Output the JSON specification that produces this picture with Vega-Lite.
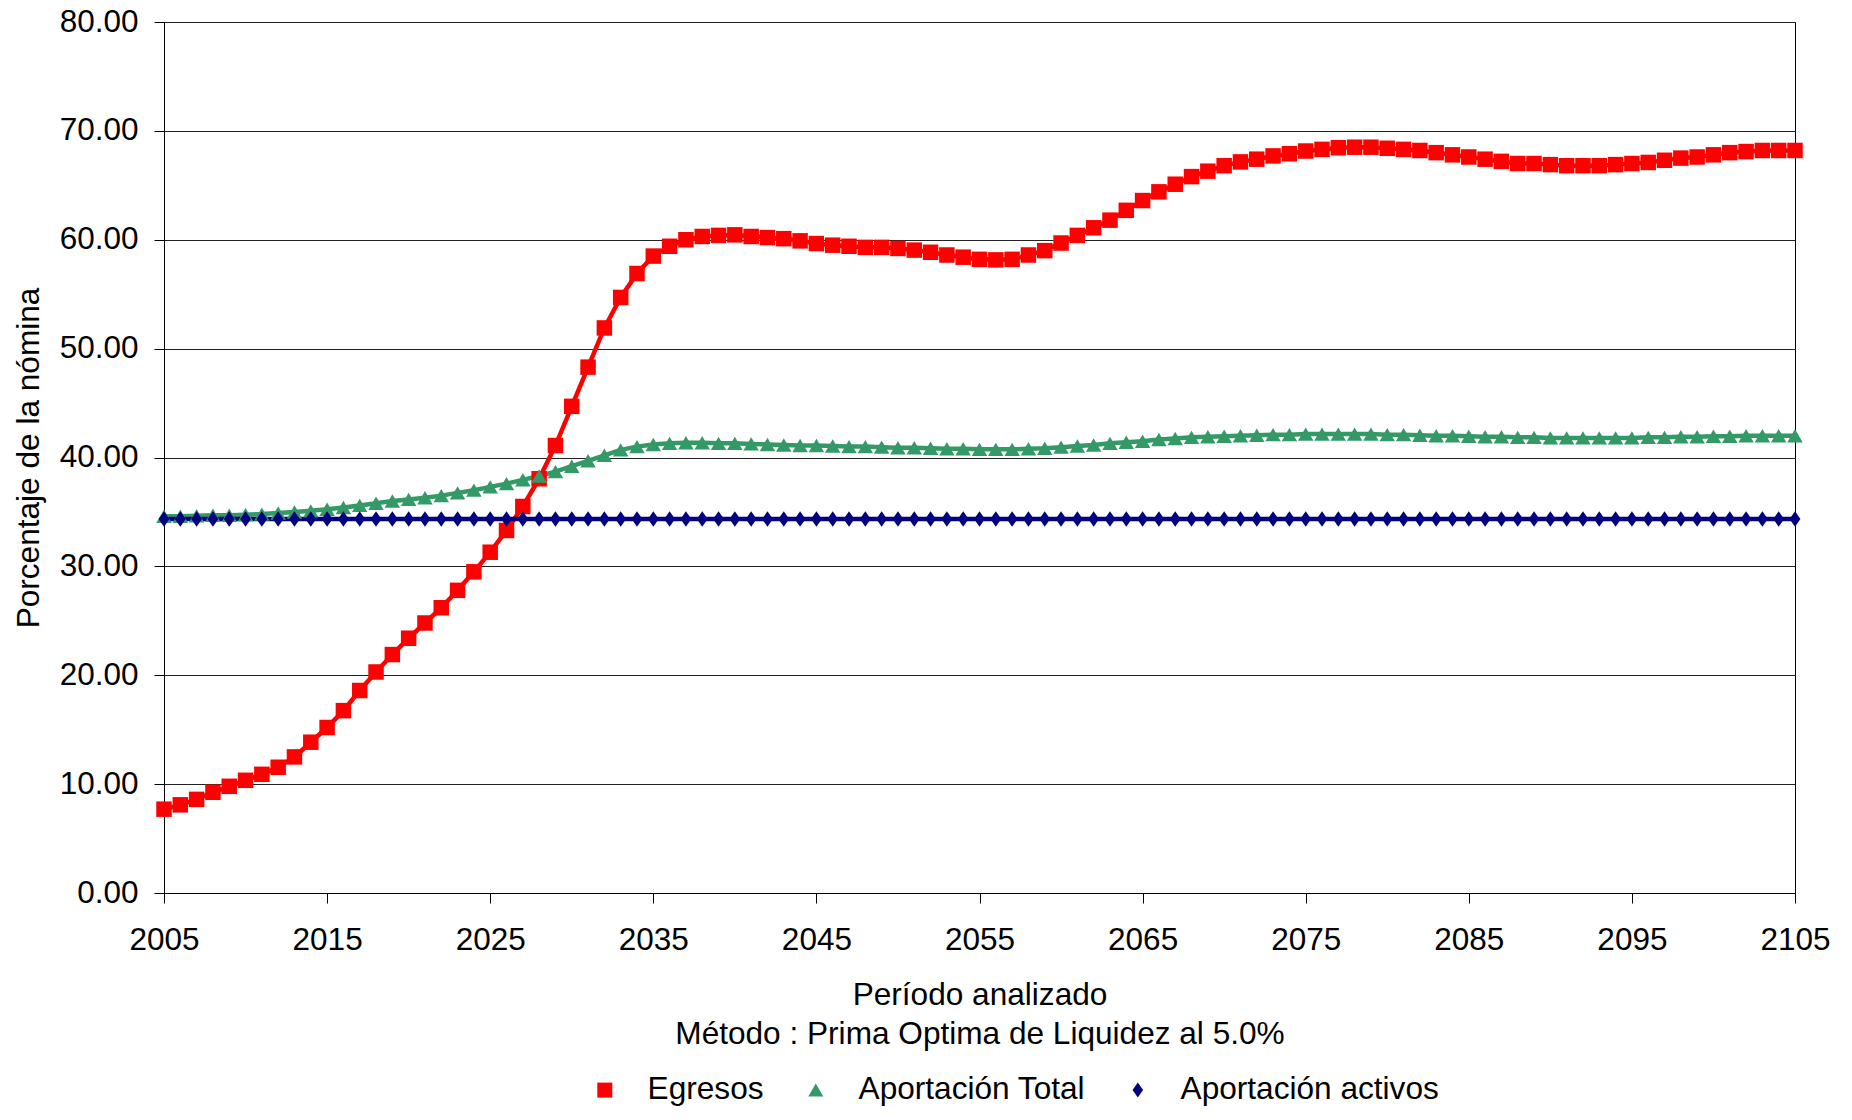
{
"$schema": "https://vega.github.io/schema/vega-lite/v6.json",
"width": 1631, "height": 871,
"autosize": {"type": "none"},
"padding": {"left": 164, "top": 22, "right": 57, "bottom": 227},
"background": "white",
"config": {"font": "Liberation Sans", "view": {"stroke": "black", "strokeWidth": 1}},
"data": {"values": [
{"anio":2005,"serie":"Egresos","valor":7.7},{"anio":2006,"serie":"Egresos","valor":8.1},{"anio":2007,"serie":"Egresos","valor":8.6},{"anio":2008,"serie":"Egresos","valor":9.25},{"anio":2009,"serie":"Egresos","valor":9.8},{"anio":2010,"serie":"Egresos","valor":10.35},{"anio":2011,"serie":"Egresos","valor":10.9},{"anio":2012,"serie":"Egresos","valor":11.55},{"anio":2013,"serie":"Egresos","valor":12.5},{"anio":2014,"serie":"Egresos","valor":13.85},
{"anio":2015,"serie":"Egresos","valor":15.2},{"anio":2016,"serie":"Egresos","valor":16.75},{"anio":2017,"serie":"Egresos","valor":18.6},{"anio":2018,"serie":"Egresos","valor":20.3},{"anio":2019,"serie":"Egresos","valor":21.9},{"anio":2020,"serie":"Egresos","valor":23.4},{"anio":2021,"serie":"Egresos","valor":24.8},{"anio":2022,"serie":"Egresos","valor":26.2},{"anio":2023,"serie":"Egresos","valor":27.8},{"anio":2024,"serie":"Egresos","valor":29.5},
{"anio":2025,"serie":"Egresos","valor":31.3},{"anio":2026,"serie":"Egresos","valor":33.3},{"anio":2027,"serie":"Egresos","valor":35.5},{"anio":2028,"serie":"Egresos","valor":38.05},{"anio":2029,"serie":"Egresos","valor":41.1},{"anio":2030,"serie":"Egresos","valor":44.7},{"anio":2031,"serie":"Egresos","valor":48.3},{"anio":2032,"serie":"Egresos","valor":51.9},{"anio":2033,"serie":"Egresos","valor":54.7},{"anio":2034,"serie":"Egresos","valor":56.9},
{"anio":2035,"serie":"Egresos","valor":58.5},{"anio":2036,"serie":"Egresos","valor":59.4},{"anio":2037,"serie":"Egresos","valor":60.0},{"anio":2038,"serie":"Egresos","valor":60.3},{"anio":2039,"serie":"Egresos","valor":60.4},{"anio":2040,"serie":"Egresos","valor":60.45},{"anio":2041,"serie":"Egresos","valor":60.3},{"anio":2042,"serie":"Egresos","valor":60.2},{"anio":2043,"serie":"Egresos","valor":60.1},{"anio":2044,"serie":"Egresos","valor":59.9},
{"anio":2045,"serie":"Egresos","valor":59.65},{"anio":2046,"serie":"Egresos","valor":59.5},{"anio":2047,"serie":"Egresos","valor":59.4},{"anio":2048,"serie":"Egresos","valor":59.3},{"anio":2049,"serie":"Egresos","valor":59.3},{"anio":2050,"serie":"Egresos","valor":59.2},{"anio":2051,"serie":"Egresos","valor":59.05},{"anio":2052,"serie":"Egresos","valor":58.85},{"anio":2053,"serie":"Egresos","valor":58.6},{"anio":2054,"serie":"Egresos","valor":58.4},
{"anio":2055,"serie":"Egresos","valor":58.2},{"anio":2056,"serie":"Egresos","valor":58.15},{"anio":2057,"serie":"Egresos","valor":58.2},{"anio":2058,"serie":"Egresos","valor":58.6},{"anio":2059,"serie":"Egresos","valor":59.0},{"anio":2060,"serie":"Egresos","valor":59.7},{"anio":2061,"serie":"Egresos","valor":60.4},{"anio":2062,"serie":"Egresos","valor":61.1},{"anio":2063,"serie":"Egresos","valor":61.8},{"anio":2064,"serie":"Egresos","valor":62.7},
{"anio":2065,"serie":"Egresos","valor":63.6},{"anio":2066,"serie":"Egresos","valor":64.4},{"anio":2067,"serie":"Egresos","valor":65.1},{"anio":2068,"serie":"Egresos","valor":65.8},{"anio":2069,"serie":"Egresos","valor":66.3},{"anio":2070,"serie":"Egresos","valor":66.8},{"anio":2071,"serie":"Egresos","valor":67.15},{"anio":2072,"serie":"Egresos","valor":67.4},{"anio":2073,"serie":"Egresos","valor":67.7},{"anio":2074,"serie":"Egresos","valor":67.9},
{"anio":2075,"serie":"Egresos","valor":68.15},{"anio":2076,"serie":"Egresos","valor":68.3},{"anio":2077,"serie":"Egresos","valor":68.45},{"anio":2078,"serie":"Egresos","valor":68.5},{"anio":2079,"serie":"Egresos","valor":68.5},{"anio":2080,"serie":"Egresos","valor":68.4},{"anio":2081,"serie":"Egresos","valor":68.3},{"anio":2082,"serie":"Egresos","valor":68.2},{"anio":2083,"serie":"Egresos","valor":68.0},{"anio":2084,"serie":"Egresos","valor":67.8},
{"anio":2085,"serie":"Egresos","valor":67.6},{"anio":2086,"serie":"Egresos","valor":67.4},{"anio":2087,"serie":"Egresos","valor":67.2},{"anio":2088,"serie":"Egresos","valor":67.0},{"anio":2089,"serie":"Egresos","valor":67.0},{"anio":2090,"serie":"Egresos","valor":66.9},{"anio":2091,"serie":"Egresos","valor":66.8},{"anio":2092,"serie":"Egresos","valor":66.8},{"anio":2093,"serie":"Egresos","valor":66.8},{"anio":2094,"serie":"Egresos","valor":66.9},
{"anio":2095,"serie":"Egresos","valor":67.0},{"anio":2096,"serie":"Egresos","valor":67.1},{"anio":2097,"serie":"Egresos","valor":67.3},{"anio":2098,"serie":"Egresos","valor":67.5},{"anio":2099,"serie":"Egresos","valor":67.6},{"anio":2100,"serie":"Egresos","valor":67.8},{"anio":2101,"serie":"Egresos","valor":68.0},{"anio":2102,"serie":"Egresos","valor":68.1},{"anio":2103,"serie":"Egresos","valor":68.2},{"anio":2104,"serie":"Egresos","valor":68.2},{"anio":2105,"serie":"Egresos","valor":68.2},
{"anio":2005,"serie":"Aportación Total","valor":34.6},{"anio":2006,"serie":"Aportación Total","valor":34.6},{"anio":2007,"serie":"Aportación Total","valor":34.65},{"anio":2008,"serie":"Aportación Total","valor":34.7},{"anio":2009,"serie":"Aportación Total","valor":34.7},{"anio":2010,"serie":"Aportación Total","valor":34.75},{"anio":2011,"serie":"Aportación Total","valor":34.8},{"anio":2012,"serie":"Aportación Total","valor":34.9},{"anio":2013,"serie":"Aportación Total","valor":35.0},{"anio":2014,"serie":"Aportación Total","valor":35.1},
{"anio":2015,"serie":"Aportación Total","valor":35.25},{"anio":2016,"serie":"Aportación Total","valor":35.4},{"anio":2017,"serie":"Aportación Total","valor":35.6},{"anio":2018,"serie":"Aportación Total","valor":35.8},{"anio":2019,"serie":"Aportación Total","valor":36.0},{"anio":2020,"serie":"Aportación Total","valor":36.15},{"anio":2021,"serie":"Aportación Total","valor":36.3},{"anio":2022,"serie":"Aportación Total","valor":36.5},{"anio":2023,"serie":"Aportación Total","valor":36.75},{"anio":2024,"serie":"Aportación Total","valor":37.0},
{"anio":2025,"serie":"Aportación Total","valor":37.3},{"anio":2026,"serie":"Aportación Total","valor":37.6},{"anio":2027,"serie":"Aportación Total","valor":37.95},{"anio":2028,"serie":"Aportación Total","valor":38.3},{"anio":2029,"serie":"Aportación Total","valor":38.7},{"anio":2030,"serie":"Aportación Total","valor":39.2},{"anio":2031,"serie":"Aportación Total","valor":39.7},{"anio":2032,"serie":"Aportación Total","valor":40.2},{"anio":2033,"serie":"Aportación Total","valor":40.7},{"anio":2034,"serie":"Aportación Total","valor":41.0},
{"anio":2035,"serie":"Aportación Total","valor":41.2},{"anio":2036,"serie":"Aportación Total","valor":41.3},{"anio":2037,"serie":"Aportación Total","valor":41.35},{"anio":2038,"serie":"Aportación Total","valor":41.35},{"anio":2039,"serie":"Aportación Total","valor":41.3},{"anio":2040,"serie":"Aportación Total","valor":41.3},{"anio":2041,"serie":"Aportación Total","valor":41.25},{"anio":2042,"serie":"Aportación Total","valor":41.2},{"anio":2043,"serie":"Aportación Total","valor":41.15},{"anio":2044,"serie":"Aportación Total","valor":41.1},
{"anio":2045,"serie":"Aportación Total","valor":41.1},{"anio":2046,"serie":"Aportación Total","valor":41.05},{"anio":2047,"serie":"Aportación Total","valor":41.0},{"anio":2048,"serie":"Aportación Total","valor":41.0},{"anio":2049,"serie":"Aportación Total","valor":40.95},{"anio":2050,"serie":"Aportación Total","valor":40.9},{"anio":2051,"serie":"Aportación Total","valor":40.9},{"anio":2052,"serie":"Aportación Total","valor":40.85},{"anio":2053,"serie":"Aportación Total","valor":40.8},{"anio":2054,"serie":"Aportación Total","valor":40.8},
{"anio":2055,"serie":"Aportación Total","valor":40.75},{"anio":2056,"serie":"Aportación Total","valor":40.75},{"anio":2057,"serie":"Aportación Total","valor":40.75},{"anio":2058,"serie":"Aportación Total","valor":40.8},{"anio":2059,"serie":"Aportación Total","valor":40.85},{"anio":2060,"serie":"Aportación Total","valor":40.95},{"anio":2061,"serie":"Aportación Total","valor":41.05},{"anio":2062,"serie":"Aportación Total","valor":41.15},{"anio":2063,"serie":"Aportación Total","valor":41.3},{"anio":2064,"serie":"Aportación Total","valor":41.4},
{"anio":2065,"serie":"Aportación Total","valor":41.5},{"anio":2066,"serie":"Aportación Total","valor":41.65},{"anio":2067,"serie":"Aportación Total","valor":41.75},{"anio":2068,"serie":"Aportación Total","valor":41.85},{"anio":2069,"serie":"Aportación Total","valor":41.9},{"anio":2070,"serie":"Aportación Total","valor":41.95},{"anio":2071,"serie":"Aportación Total","valor":42.0},{"anio":2072,"serie":"Aportación Total","valor":42.05},{"anio":2073,"serie":"Aportación Total","valor":42.1},{"anio":2074,"serie":"Aportación Total","valor":42.1},
{"anio":2075,"serie":"Aportación Total","valor":42.15},{"anio":2076,"serie":"Aportación Total","valor":42.15},{"anio":2077,"serie":"Aportación Total","valor":42.15},{"anio":2078,"serie":"Aportación Total","valor":42.15},{"anio":2079,"serie":"Aportación Total","valor":42.15},{"anio":2080,"serie":"Aportación Total","valor":42.1},{"anio":2081,"serie":"Aportación Total","valor":42.1},{"anio":2082,"serie":"Aportación Total","valor":42.05},{"anio":2083,"serie":"Aportación Total","valor":42.0},{"anio":2084,"serie":"Aportación Total","valor":42.0},
{"anio":2085,"serie":"Aportación Total","valor":41.95},{"anio":2086,"serie":"Aportación Total","valor":41.9},{"anio":2087,"serie":"Aportación Total","valor":41.9},{"anio":2088,"serie":"Aportación Total","valor":41.85},{"anio":2089,"serie":"Aportación Total","valor":41.85},{"anio":2090,"serie":"Aportación Total","valor":41.8},{"anio":2091,"serie":"Aportación Total","valor":41.8},{"anio":2092,"serie":"Aportación Total","valor":41.8},{"anio":2093,"serie":"Aportación Total","valor":41.8},{"anio":2094,"serie":"Aportación Total","valor":41.8},
{"anio":2095,"serie":"Aportación Total","valor":41.8},{"anio":2096,"serie":"Aportación Total","valor":41.85},{"anio":2097,"serie":"Aportación Total","valor":41.85},{"anio":2098,"serie":"Aportación Total","valor":41.9},{"anio":2099,"serie":"Aportación Total","valor":41.9},{"anio":2100,"serie":"Aportación Total","valor":41.95},{"anio":2101,"serie":"Aportación Total","valor":41.95},{"anio":2102,"serie":"Aportación Total","valor":42.0},{"anio":2103,"serie":"Aportación Total","valor":42.0},{"anio":2104,"serie":"Aportación Total","valor":42.0},{"anio":2105,"serie":"Aportación Total","valor":42.0},
{"anio":2005,"serie":"Aportación activos","valor":34.35},{"anio":2006,"serie":"Aportación activos","valor":34.35},{"anio":2007,"serie":"Aportación activos","valor":34.35},{"anio":2008,"serie":"Aportación activos","valor":34.35},{"anio":2009,"serie":"Aportación activos","valor":34.35},{"anio":2010,"serie":"Aportación activos","valor":34.35},{"anio":2011,"serie":"Aportación activos","valor":34.35},{"anio":2012,"serie":"Aportación activos","valor":34.35},{"anio":2013,"serie":"Aportación activos","valor":34.35},{"anio":2014,"serie":"Aportación activos","valor":34.35},
{"anio":2015,"serie":"Aportación activos","valor":34.35},{"anio":2016,"serie":"Aportación activos","valor":34.35},{"anio":2017,"serie":"Aportación activos","valor":34.35},{"anio":2018,"serie":"Aportación activos","valor":34.35},{"anio":2019,"serie":"Aportación activos","valor":34.35},{"anio":2020,"serie":"Aportación activos","valor":34.35},{"anio":2021,"serie":"Aportación activos","valor":34.35},{"anio":2022,"serie":"Aportación activos","valor":34.35},{"anio":2023,"serie":"Aportación activos","valor":34.35},{"anio":2024,"serie":"Aportación activos","valor":34.35},
{"anio":2025,"serie":"Aportación activos","valor":34.35},{"anio":2026,"serie":"Aportación activos","valor":34.35},{"anio":2027,"serie":"Aportación activos","valor":34.35},{"anio":2028,"serie":"Aportación activos","valor":34.35},{"anio":2029,"serie":"Aportación activos","valor":34.35},{"anio":2030,"serie":"Aportación activos","valor":34.35},{"anio":2031,"serie":"Aportación activos","valor":34.35},{"anio":2032,"serie":"Aportación activos","valor":34.35},{"anio":2033,"serie":"Aportación activos","valor":34.35},{"anio":2034,"serie":"Aportación activos","valor":34.35},
{"anio":2035,"serie":"Aportación activos","valor":34.35},{"anio":2036,"serie":"Aportación activos","valor":34.35},{"anio":2037,"serie":"Aportación activos","valor":34.35},{"anio":2038,"serie":"Aportación activos","valor":34.35},{"anio":2039,"serie":"Aportación activos","valor":34.35},{"anio":2040,"serie":"Aportación activos","valor":34.35},{"anio":2041,"serie":"Aportación activos","valor":34.35},{"anio":2042,"serie":"Aportación activos","valor":34.35},{"anio":2043,"serie":"Aportación activos","valor":34.35},{"anio":2044,"serie":"Aportación activos","valor":34.35},
{"anio":2045,"serie":"Aportación activos","valor":34.35},{"anio":2046,"serie":"Aportación activos","valor":34.35},{"anio":2047,"serie":"Aportación activos","valor":34.35},{"anio":2048,"serie":"Aportación activos","valor":34.35},{"anio":2049,"serie":"Aportación activos","valor":34.35},{"anio":2050,"serie":"Aportación activos","valor":34.35},{"anio":2051,"serie":"Aportación activos","valor":34.35},{"anio":2052,"serie":"Aportación activos","valor":34.35},{"anio":2053,"serie":"Aportación activos","valor":34.35},{"anio":2054,"serie":"Aportación activos","valor":34.35},
{"anio":2055,"serie":"Aportación activos","valor":34.35},{"anio":2056,"serie":"Aportación activos","valor":34.35},{"anio":2057,"serie":"Aportación activos","valor":34.35},{"anio":2058,"serie":"Aportación activos","valor":34.35},{"anio":2059,"serie":"Aportación activos","valor":34.35},{"anio":2060,"serie":"Aportación activos","valor":34.35},{"anio":2061,"serie":"Aportación activos","valor":34.35},{"anio":2062,"serie":"Aportación activos","valor":34.35},{"anio":2063,"serie":"Aportación activos","valor":34.35},{"anio":2064,"serie":"Aportación activos","valor":34.35},
{"anio":2065,"serie":"Aportación activos","valor":34.35},{"anio":2066,"serie":"Aportación activos","valor":34.35},{"anio":2067,"serie":"Aportación activos","valor":34.35},{"anio":2068,"serie":"Aportación activos","valor":34.35},{"anio":2069,"serie":"Aportación activos","valor":34.35},{"anio":2070,"serie":"Aportación activos","valor":34.35},{"anio":2071,"serie":"Aportación activos","valor":34.35},{"anio":2072,"serie":"Aportación activos","valor":34.35},{"anio":2073,"serie":"Aportación activos","valor":34.35},{"anio":2074,"serie":"Aportación activos","valor":34.35},
{"anio":2075,"serie":"Aportación activos","valor":34.35},{"anio":2076,"serie":"Aportación activos","valor":34.35},{"anio":2077,"serie":"Aportación activos","valor":34.35},{"anio":2078,"serie":"Aportación activos","valor":34.35},{"anio":2079,"serie":"Aportación activos","valor":34.35},{"anio":2080,"serie":"Aportación activos","valor":34.35},{"anio":2081,"serie":"Aportación activos","valor":34.35},{"anio":2082,"serie":"Aportación activos","valor":34.35},{"anio":2083,"serie":"Aportación activos","valor":34.35},{"anio":2084,"serie":"Aportación activos","valor":34.35},
{"anio":2085,"serie":"Aportación activos","valor":34.35},{"anio":2086,"serie":"Aportación activos","valor":34.35},{"anio":2087,"serie":"Aportación activos","valor":34.35},{"anio":2088,"serie":"Aportación activos","valor":34.35},{"anio":2089,"serie":"Aportación activos","valor":34.35},{"anio":2090,"serie":"Aportación activos","valor":34.35},{"anio":2091,"serie":"Aportación activos","valor":34.35},{"anio":2092,"serie":"Aportación activos","valor":34.35},{"anio":2093,"serie":"Aportación activos","valor":34.35},{"anio":2094,"serie":"Aportación activos","valor":34.35},
{"anio":2095,"serie":"Aportación activos","valor":34.35},{"anio":2096,"serie":"Aportación activos","valor":34.35},{"anio":2097,"serie":"Aportación activos","valor":34.35},{"anio":2098,"serie":"Aportación activos","valor":34.35},{"anio":2099,"serie":"Aportación activos","valor":34.35},{"anio":2100,"serie":"Aportación activos","valor":34.35},{"anio":2101,"serie":"Aportación activos","valor":34.35},{"anio":2102,"serie":"Aportación activos","valor":34.35},{"anio":2103,"serie":"Aportación activos","valor":34.35},{"anio":2104,"serie":"Aportación activos","valor":34.35},{"anio":2105,"serie":"Aportación activos","valor":34.35}
]},
"encoding": {
  "x": {"field": "anio", "type": "quantitative",
    "scale": {"domain": [2005, 2105], "nice": false, "zero": false},
    "axis": {"values": [2005,2015,2025,2035,2045,2055,2065,2075,2085,2095,2105], "format": "d",
      "title": ["Período analizado", "Método : Prima Optima de Liquidez al 5.0%"],
      "grid": false, "domainColor": "black", "domainWidth": 1, "tickColor": "black", "tickSize": 10,
      "labelFontSize": 31.5, "labelColor": "black", "labelPadding": 21, "labelFlush": false, "labelOverlap": false,
      "titleFontSize": 31.6, "titleFontWeight": "normal", "titleColor": "black", "titlePadding": 24, "titleLineHeight": 39}},
  "y": {"field": "valor", "type": "quantitative",
    "scale": {"domain": [0, 80], "nice": false, "zero": true},
    "axis": {"values": [0,10,20,30,40,50,60,70,80], "format": ".2f", "title": "Porcentaje de la nómina",
      "grid": true, "gridColor": "#222222", "gridWidth": 1, "domainColor": "black", "domainWidth": 1,
      "tickColor": "black", "tickSize": 10, "labelFontSize": 31.5, "labelColor": "black", "labelPadding": 16,
      "titleFontSize": 31.6, "titleFontWeight": "normal", "titleColor": "black", "titlePadding": 14}},
  "color": {"field": "serie", "type": "nominal",
    "scale": {"domain": ["Egresos", "Aportación Total", "Aportación activos"], "range": ["#FF0000", "#339966", "#000080"]},
    "legend": {"orient": "none", "legendX": 425, "legendY": 1052, "direction": "horizontal", "title": null, "padding": 0,
      "symbolSize": 225, "labelFontSize": 31.6, "labelColor": "black", "labelOffset": 27, "columnPadding": 36, "labelLimit": 500,
      "symbolStrokeWidth": 0}}
},
"layer": [
  {"mark": {"type": "line", "strokeWidth": 4.5}, "encoding": {}},
  {"mark": {"type": "point", "filled": true, "opacity": 1, "size": 240, "strokeWidth": 0},
   "encoding": {
     "shape": {"field": "serie", "type": "nominal",
       "scale": {"domain": ["Egresos", "Aportación Total", "Aportación activos"], "range": ["square", "triangle-up", "M0,-1L0.7,0L0,1L-0.7,0Z"]}}}}
]
}
